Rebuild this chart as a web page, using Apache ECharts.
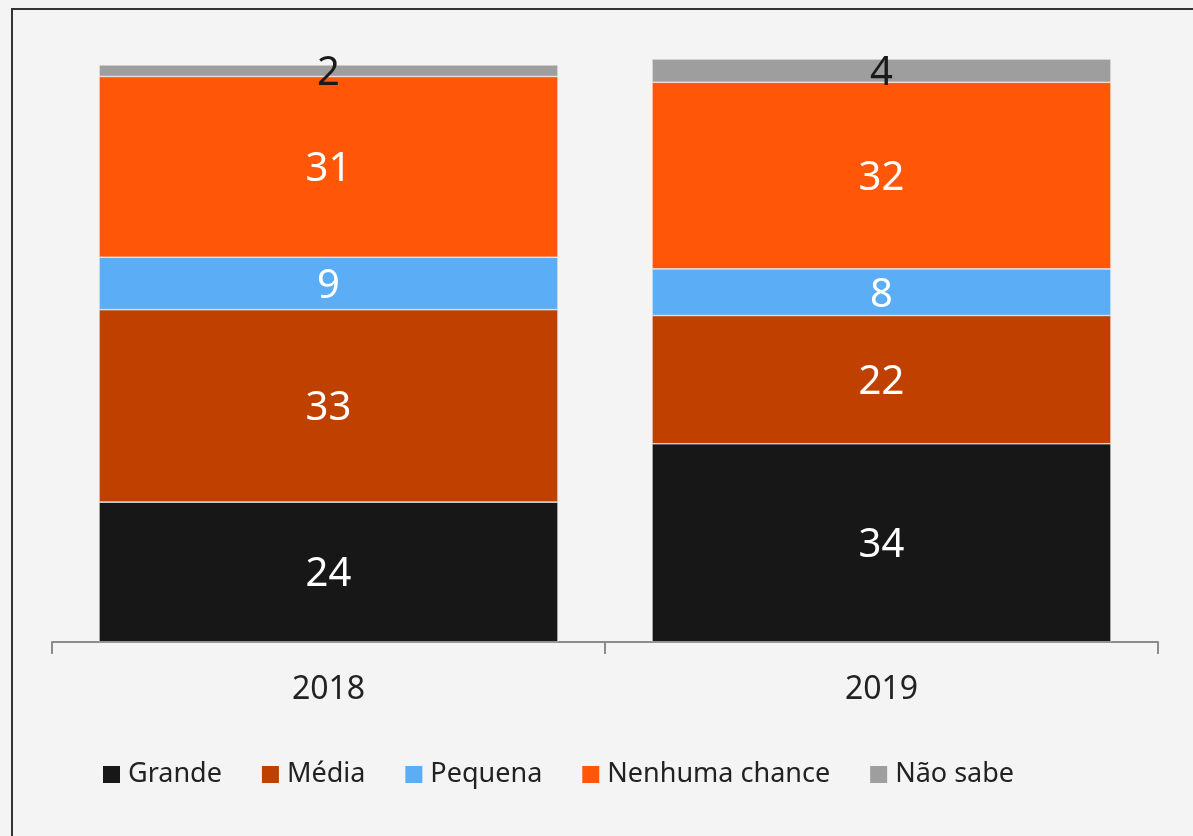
<!DOCTYPE html>
<html>
<head>
<meta charset="utf-8">
<script src="https://cdn.jsdelivr.net/npm/echarts@6/dist/echarts.min.js"></script>
<style>
  html, body { margin: 0; padding: 0; background: #f4f4f4; }
  #chart { width: 1193px; height: 836px; }
</style>
</head>
<body>
<div id="chart"></div>
<script>
const categories = ['2018', '2019']
const seriesNames = ['Grande', 'Média', 'Pequena', 'Nenhuma chance', 'Não sabe']
const grande = [24, 34]
const media = [33, 22]
const pequena = [9, 8]
const nenhuma = [31, 32]
const naoSabe = [2, 4]

const colors = ['#171717', '#c04000', '#5badf6', '#ff5608', '#9e9e9e']
const labelColors = ['#ffffff', '#ffffff', '#ffffff', '#ffffff', '#1a1a1a']
const values = [grande, media, pequena, nenhuma, naoSabe]

const chart = echarts.init(document.getElementById('chart'))

chart.setOption({
  backgroundColor: '#f4f4f4',
  textStyle: { fontFamily: 'Noto Sans' },
  graphic: [{
    type: 'rect',
    shape: { x: 12, y: 9, width: 1300, height: 900 },
    style: { fill: 'none', stroke: '#333', lineWidth: 2 },
    silent: true
  }],
  grid: {
    left: 52,
    right: 35,
    top: 59,
    bottom: 194
  },
  legend: {
    left: 96,
    top: 756,
    itemWidth: 19,
    itemHeight: 19,
    itemGap: 38,
    icon: 'rect',
    data: seriesNames,
    textStyle: { fontSize: 27, color: '#222', padding: [0, 0, 0, 2] }
  },
  xAxis: {
    type: 'category',
    data: categories,
    axisLine: { lineStyle: { color: '#8c8c8c', width: 2 } },
    axisTick: { show: true, length: 12, lineStyle: { color: '#8c8c8c', width: 2 } },
    axisLabel: { fontSize: 32, color: '#222', margin: 32 }
  },
  yAxis: {
    type: 'value',
    min: 0,
    max: 100,
    show: false,
    splitLine: { show: false }
  },
  series: seriesNames.map((name, i) => ({
    name: name,
    type: 'bar',
    stack: 'total',
    barCategoryGap: '17%',
    data: values[i],
    itemStyle: {
      color: colors[i],
      borderColor: '#f4f4f4',
      borderWidth: 0.6
    },
    label: {
      show: true,
      position: 'inside',
      color: labelColors[i],
      fontSize: 40,
      offset: [0, 3]
    }
  }))
})
</script>
</body>
</html>
